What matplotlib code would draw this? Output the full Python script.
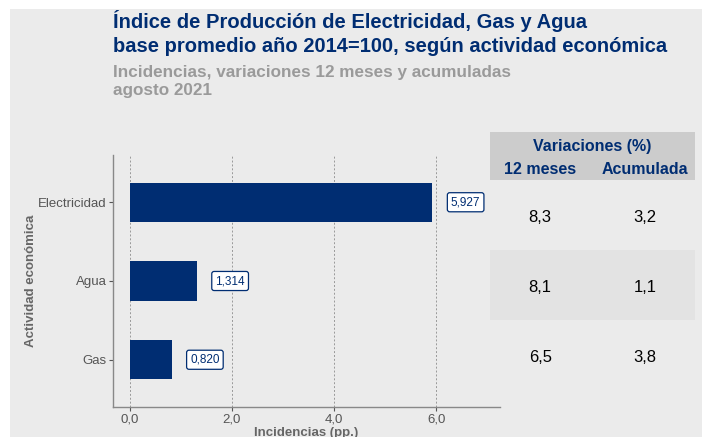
#!/usr/bin/env python3
"""Indice de Produccion de Electricidad, Gas y Agua: incidencias y variaciones."""

import matplotlib
matplotlib.use("Agg")
import matplotlib.pyplot as plt
from matplotlib.patches import Rectangle

categories = ["Gas", "Agua", "Electricidad"]
incidencias = [0.820, 1.314, 5.927]
var_12m = [6.5, 8.1, 8.3]
var_acum = [3.8, 1.1, 3.2]
x_ticks = [0, 2, 4, 6]

BLUE = "#002D72"
GRAY_TXT = "#9A9A9A"
BG = "#EBEBEB"

plt.rcParams["font.family"] = ["Liberation Sans", "DejaVu Sans"]

W, H = 702, 437
fig = plt.figure(figsize=(W / 100, H / 100), dpi=100)
fig.patch.set_facecolor("white")
fig.patches.append(Rectangle((10 / W, 0), 1, 1 - 9 / H, transform=fig.transFigure,
                             facecolor=BG, edgecolor="none", zorder=-10))


def fbox(x0, y0, x1, y1):
    # pixel box (top-left origin) -> figure fraction rect
    return [x0 / W, 1 - y1 / H, (x1 - x0) / W, (y1 - y0) / H]


# titles
fig.text(113 / W, 1 - 21 / H, "Índice de Producción de Electricidad, Gas y Agua",
         color=BLUE, fontsize=14.5, fontweight="bold", va="center")
fig.text(113 / W, 1 - 47 / H, "base promedio año 2014=100, según actividad económica",
         color=BLUE, fontsize=14.5, fontweight="bold", va="center")
fig.text(113 / W, 1 - 72 / H, "Incidencias, variaciones 12 meses y acumuladas",
         color=GRAY_TXT, fontsize=12.3, fontweight="bold", va="center")
fig.text(113 / W, 1 - 90 / H, "agosto 2021",
         color=GRAY_TXT, fontsize=12.3, fontweight="bold", va="center")

# bar chart
ax = fig.add_axes(fbox(113, 155, 500, 407))
ax.set_facecolor(BG)
ypos = list(range(len(categories)))
ax.barh(ypos, incidencias, height=0.5, color=BLUE, zorder=3)
for y, v in zip(ypos, incidencias):
    ax.text(v + 0.65, y, f"{v:.3f}".replace(".", ","), ha="center", va="center",
            fontsize=8.5, color=BLUE, zorder=4,
            bbox=dict(boxstyle="round,pad=0.3,rounding_size=0.2", fc="white",
                      ec=BLUE, lw=0.9))
ax.set_xlim(-0.33, 7.25)
ax.set_ylim(-0.6, 2.6)
ax.set_yticks(ypos)
ax.set_yticklabels(categories)
ax.set_xticks(x_ticks)
ax.set_xticklabels([f"{t:.1f}".replace(".", ",") for t in x_ticks])
ax.grid(axis="x", color="#999999", linestyle=(0, (2, 2)), linewidth=0.7, zorder=0)
ax.tick_params(colors="#555555", labelsize=9.5, length=3, width=0.8, pad=1.5)
for s in ["top", "right"]:
    ax.spines[s].set_visible(False)
for s in ["left", "bottom"]:
    ax.spines[s].set_color("#888888")
    ax.spines[s].set_linewidth(1.0)
ax.set_xlabel("Incidencias (pp.)", color="#666666", fontsize=9.5, fontweight="bold",
              labelpad=1)
ax.set_ylabel("Actividad económica", color="#666666", fontsize=9.5, fontweight="bold",
              labelpad=1)

# table header
hax = fig.add_axes(fbox(490, 132, 695, 180))
hax.set_xlim(0, 1)
hax.set_ylim(0, 1)
hax.axis("off")
hax.add_patch(Rectangle((0, 0), 1, 1, facecolor="#CCCCCC", edgecolor="none"))
hax.text(0.5, 0.7, "Variaciones (%)", ha="center", va="center", color=BLUE,
         fontsize=11.5, fontweight="bold")
hax.text(0.245, 0.22, "12 meses", ha="center", va="center", color=BLUE,
         fontsize=11.5, fontweight="bold")
hax.text(0.755, 0.22, "Acumulada", ha="center", va="center", color=BLUE,
         fontsize=11.5, fontweight="bold")

# table body
tax = fig.add_axes(fbox(490, 180, 695, 390))
tax.set_xlim(0, 1)
tax.set_ylim(-0.5, len(categories) - 0.5)
tax.axis("off")
for y, a, b in zip(ypos, var_12m, var_acum):
    if y == 1:
        tax.add_patch(Rectangle((0, y - 0.5), 1, 1, facecolor="#E3E3E3", edgecolor="none"))
    tax.text(0.245, y - 0.04, f"{a:.1f}".replace(".", ","), ha="center", va="center",
             fontsize=12, color="black")
    tax.text(0.755, y - 0.04, f"{b:.1f}".replace(".", ","), ha="center", va="center",
             fontsize=12, color="black")

fig.savefig("out.png", dpi=100, facecolor=fig.get_facecolor())
